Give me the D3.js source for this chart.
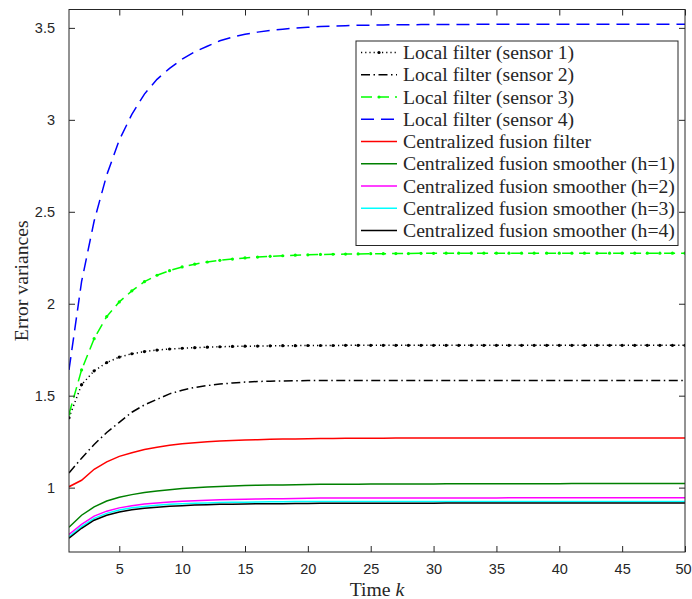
<!DOCTYPE html>
<html>
<head>
<meta charset="utf-8">
<script src="https://cdn.jsdelivr.net/npm/d3@7"></script>
<style>
  html, body { margin: 0; padding: 0; background: #fff; }
  svg { display: block; }
  .tick-label { font-family: "Liberation Sans", Arial, sans-serif; font-size: 14.5px; fill: #262626; }
  .axis-title, .legend-label { font-family: "Liberation Serif", "DejaVu Serif", serif; fill: #262626; }
</style>
</head>
<body>
<main id="root"></main>
<script>
"use strict";

// time steps k = 1..50
var time_k = d3.range(1, 51);

var x_ticks = [5, 10, 15, 20, 25, 30, 35, 40, 45, 50];
var y_ticks = [1, 1.5, 2, 2.5, 3, 3.5];

// error variances, one value per time step
var local_sensor1 = [
    1.380, 1.560, 1.635, 1.680, 1.710, 1.728, 1.740, 1.748, 1.754, 1.758,
    1.761, 1.764, 1.766, 1.768, 1.769, 1.770, 1.771, 1.772, 1.772, 1.773,
    1.773, 1.773, 1.774, 1.774, 1.774, 1.774, 1.774, 1.774, 1.774, 1.774,
    1.774, 1.774, 1.774, 1.774, 1.774, 1.774, 1.774, 1.774, 1.774, 1.774,
    1.774, 1.774, 1.774, 1.774, 1.774, 1.774, 1.774, 1.774, 1.774, 1.774
];

var local_sensor2 = [
    1.080, 1.160, 1.235, 1.300, 1.355, 1.410, 1.450, 1.480, 1.510, 1.530,
    1.545, 1.555, 1.563, 1.569, 1.574, 1.577, 1.579, 1.580, 1.581, 1.582,
    1.582, 1.583, 1.583, 1.583, 1.583, 1.583, 1.583, 1.583, 1.583, 1.583,
    1.583, 1.583, 1.583, 1.583, 1.583, 1.583, 1.583, 1.583, 1.583, 1.583,
    1.583, 1.583, 1.583, 1.583, 1.583, 1.583, 1.583, 1.583, 1.583, 1.583
];

var local_sensor3 = [
    1.400, 1.640, 1.810, 1.930, 2.010, 2.070, 2.120, 2.155, 2.180, 2.200,
    2.215, 2.227, 2.236, 2.243, 2.249, 2.254, 2.258, 2.261, 2.264, 2.266,
    2.268, 2.269, 2.270, 2.271, 2.272, 2.272, 2.273, 2.273, 2.274, 2.274,
    2.275, 2.275, 2.275, 2.275, 2.275, 2.275, 2.275, 2.275, 2.275, 2.275,
    2.275, 2.275, 2.275, 2.275, 2.275, 2.275, 2.275, 2.275, 2.275, 2.275
];

var local_sensor4 = [
    1.640, 2.120, 2.450, 2.700, 2.890, 3.030, 3.140, 3.220, 3.280, 3.330,
    3.370, 3.400, 3.430, 3.450, 3.465, 3.477, 3.486, 3.493, 3.499, 3.503,
    3.507, 3.510, 3.512, 3.514, 3.515, 3.516, 3.517, 3.517, 3.518, 3.518,
    3.519, 3.519, 3.519, 3.520, 3.520, 3.520, 3.520, 3.520, 3.520, 3.520,
    3.520, 3.520, 3.520, 3.520, 3.520, 3.520, 3.520, 3.520, 3.520, 3.520
];

var fusion_filter = [
    1.005, 1.040, 1.100, 1.140, 1.170, 1.190, 1.207, 1.220, 1.230, 1.238,
    1.244, 1.249, 1.253, 1.256, 1.259, 1.261, 1.263, 1.264, 1.265, 1.266,
    1.267, 1.267, 1.268, 1.268, 1.269, 1.269, 1.270, 1.270, 1.270, 1.270,
    1.270, 1.270, 1.270, 1.270, 1.270, 1.270, 1.270, 1.270, 1.270, 1.270,
    1.270, 1.270, 1.270, 1.270, 1.270, 1.270, 1.270, 1.270, 1.270, 1.270
];

var smoother_h1 = [
    0.785, 0.850, 0.895, 0.927, 0.948, 0.962, 0.973, 0.982, 0.989, 0.995,
    0.999, 1.003, 1.006, 1.009, 1.011, 1.013, 1.014, 1.015, 1.016, 1.017,
    1.018, 1.018, 1.019, 1.019, 1.020, 1.020, 1.020, 1.020, 1.020, 1.020,
    1.021, 1.021, 1.021, 1.021, 1.021, 1.021, 1.021, 1.021, 1.021, 1.021,
    1.022, 1.022, 1.022, 1.022, 1.022, 1.022, 1.022, 1.022, 1.022, 1.022
];

var smoother_h2 = [
    0.745, 0.800, 0.845, 0.872, 0.890, 0.902, 0.911, 0.917, 0.922, 0.926,
    0.929, 0.932, 0.934, 0.936, 0.937, 0.938, 0.939, 0.940, 0.941, 0.942,
    0.943, 0.943, 0.943, 0.943, 0.943, 0.944, 0.944, 0.944, 0.944, 0.944,
    0.944, 0.944, 0.944, 0.944, 0.944, 0.945, 0.945, 0.945, 0.945, 0.945,
    0.945, 0.945, 0.945, 0.945, 0.945, 0.945, 0.945, 0.945, 0.945, 0.945
];

var smoother_h3 = [
    0.733, 0.788, 0.833, 0.860, 0.878, 0.890, 0.898, 0.904, 0.909, 0.912,
    0.915, 0.917, 0.919, 0.920, 0.921, 0.922, 0.923, 0.923, 0.924, 0.924,
    0.925, 0.925, 0.925, 0.925, 0.925, 0.925, 0.925, 0.925, 0.925, 0.925,
    0.925, 0.925, 0.925, 0.925, 0.925, 0.925, 0.925, 0.925, 0.925, 0.925,
    0.925, 0.925, 0.925, 0.925, 0.925, 0.925, 0.925, 0.925, 0.925, 0.925
];

var smoother_h4 = [
    0.725, 0.779, 0.823, 0.850, 0.868, 0.880, 0.888, 0.894, 0.899, 0.902,
    0.905, 0.907, 0.909, 0.910, 0.911, 0.912, 0.913, 0.913, 0.914, 0.914,
    0.915, 0.915, 0.915, 0.915, 0.915, 0.915, 0.915, 0.915, 0.915, 0.915,
    0.916, 0.916, 0.916, 0.916, 0.916, 0.916, 0.916, 0.916, 0.916, 0.916,
    0.916, 0.916, 0.916, 0.916, 0.916, 0.916, 0.916, 0.916, 0.916, 0.916
];

var series_names = [
    'Local filter (sensor 1)',
    'Local filter (sensor 2)',
    'Local filter (sensor 3)',
    'Local filter (sensor 4)',
    'Centralized fusion filter',
    'Centralized fusion smoother (h=1)',
    'Centralized fusion smoother (h=2)',
    'Centralized fusion smoother (h=3)',
    'Centralized fusion smoother (h=4)'
];

// styling per series, kept apart from the values
var series_styles = [
    { values: local_sensor1, color: '#000000', dash: '1.2,3', dots: true },
    { values: local_sensor2, color: '#000000', dash: '9,3.5,1.5,3.5', dots: false },
    { values: local_sensor3, color: '#00ff00', dash: '11,6', dots: true },
    { values: local_sensor4, color: '#0000ff', dash: '13,7', dots: false },
    { values: fusion_filter, color: '#ff0000', dash: null, dots: false },
    { values: smoother_h1, color: '#008000', dash: null, dots: false },
    { values: smoother_h2, color: '#ff00ff', dash: null, dots: false },
    { values: smoother_h3, color: '#00ffff', dash: null, dots: false },
    { values: smoother_h4, color: '#000000', dash: null, dots: false }
];

var width = 692, height = 599;
var plot = { left: 69, right: 685, top: 9.5, bottom: 552 };
var axis_color = '#262626';

var svg = d3.select('main#root').append('svg')
    .attr('width', width)
    .attr('height', height);

var x = d3.scaleLinear().domain([1, 50]).range([plot.left, plot.right]);
var y = d3.scaleLinear().domain([0.65, 3.6]).range([plot.bottom, plot.top]);

svg.append('defs').append('clipPath')
    .attr('id', 'plot-clip')
    .append('rect')
        .attr('x', plot.left)
        .attr('y', plot.top)
        .attr('width', plot.right - plot.left)
        .attr('height', plot.bottom - plot.top);

// curves
var line = d3.line()
    .x(function(d, i) { return x(time_k[i]); })
    .y(function(d) { return y(d); });

var g_lines = svg.append('g').attr('clip-path', 'url(#plot-clip)');

series_styles.forEach(function(s) {
    g_lines.append('path')
        .datum(s.values)
        .attr('fill', 'none')
        .attr('stroke', s.color)
        .attr('stroke-width', 1.5)
        .attr('stroke-dasharray', s.dash)
        .attr('d', line);

    if (s.dots) {
        g_lines.append('g').selectAll('circle')
            .data(s.values)
            .enter().append('circle')
                .attr('cx', function(d, i) { return x(time_k[i]); })
                .attr('cy', function(d) { return y(d); })
                .attr('r', 1.6)
                .attr('fill', s.color);
    }
});

// axes: MATLAB style box with inward ticks on all four sides
var tick_len = 6;

var bottom_axis = d3.axisBottom(x).tickValues(x_ticks).tickSizeInner(-tick_len).tickSizeOuter(0).tickPadding(12);
var top_axis = d3.axisTop(x).tickValues(x_ticks).tickSizeInner(-tick_len).tickSizeOuter(0).tickFormat('');
var left_axis = d3.axisLeft(y).tickValues(y_ticks).tickSizeInner(-tick_len).tickSizeOuter(0).tickPadding(14).tickFormat(d3.format('~g'));
var right_axis = d3.axisRight(y).tickValues(y_ticks).tickSizeInner(-tick_len).tickSizeOuter(0).tickFormat('');

function style_axis(g) {
    g.select('.domain').remove();
    g.selectAll('.tick line').attr('stroke', axis_color).attr('stroke-width', 1);
    g.selectAll('.tick text').attr('class', 'tick-label').attr('fill', null);
    g.attr('font-family', null).attr('font-size', null);
}

var g_bottom = svg.append('g').attr('transform', 'translate(0,' + plot.bottom + ')').call(bottom_axis).call(style_axis);
svg.append('g').attr('transform', 'translate(0,' + plot.top + ')').call(top_axis).call(style_axis);
svg.append('g').attr('transform', 'translate(' + plot.left + ',0)').call(left_axis).call(style_axis);
svg.append('g').attr('transform', 'translate(' + plot.right + ',0)').call(right_axis).call(style_axis);

// the last label sits right on the page edge; nudge it in a little
g_bottom.selectAll('.tick text').filter(function(d) { return d === 50; }).attr('dx', -2);

svg.append('rect')
    .attr('x', plot.left)
    .attr('y', plot.top)
    .attr('width', plot.right - plot.left)
    .attr('height', plot.bottom - plot.top)
    .attr('fill', 'none')
    .attr('stroke', axis_color)
    .attr('stroke-width', 1);

// legend
var legend = { left: 356, top: 41, right: 678, bottom: 245.5, row0: 52.5, row_step: 22.25 };

var g_legend = svg.append('g').classed('legend', true);

g_legend.append('rect')
    .attr('x', legend.left)
    .attr('y', legend.top)
    .attr('width', legend.right - legend.left)
    .attr('height', legend.bottom - legend.top)
    .attr('fill', '#fff')
    .attr('stroke', axis_color)
    .attr('stroke-width', 1);

var rows = g_legend.selectAll('.legend-row')
    .data(series_styles)
    .enter().append('g')
        .classed('legend-row', true)
        .attr('transform', function(d, i) { return 'translate(0,' + (legend.row0 + i * legend.row_step) + ')'; });

rows.append('line')
    .attr('x1', 361)
    .attr('x2', 397)
    .attr('stroke', function(d) { return d.color; })
    .attr('stroke-width', 1.5)
    .attr('stroke-dasharray', function(d) { return d.dash; });

rows.filter(function(d) { return d.dots; })
    .append('circle')
        .attr('cx', 379)
        .attr('r', 1.6)
        .attr('fill', function(d) { return d.color; });

rows.append('text')
    .attr('class', 'legend-label')
    .attr('x', 403)
    .attr('dy', '0.33em')
    .attr('font-size', 16)
    .text(function(d, i) { return series_names[i]; });

// fit the labels to the width of the reference legend text
var widest = d3.max(rows.selectAll('text').nodes(), function(n) { return n.getComputedTextLength(); });
var font_size = 16 * 272 / widest;
rows.selectAll('text').attr('font-size', font_size);

// axis titles
var x_title = svg.append('text')
    .attr('class', 'axis-title')
    .attr('x', (plot.left + plot.right) / 2)
    .attr('y', 596)
    .attr('text-anchor', 'middle')
    .attr('font-size', font_size);
x_title.append('tspan').text('Time ');
x_title.append('tspan').attr('font-style', 'italic').text('k');

svg.append('text')
    .attr('class', 'axis-title')
    .attr('transform', 'translate(28,' + ((plot.top + plot.bottom) / 2) + ') rotate(-90)')
    .attr('text-anchor', 'middle')
    .attr('font-size', font_size)
    .text('Error variances');
</script>
</body>
</html>
